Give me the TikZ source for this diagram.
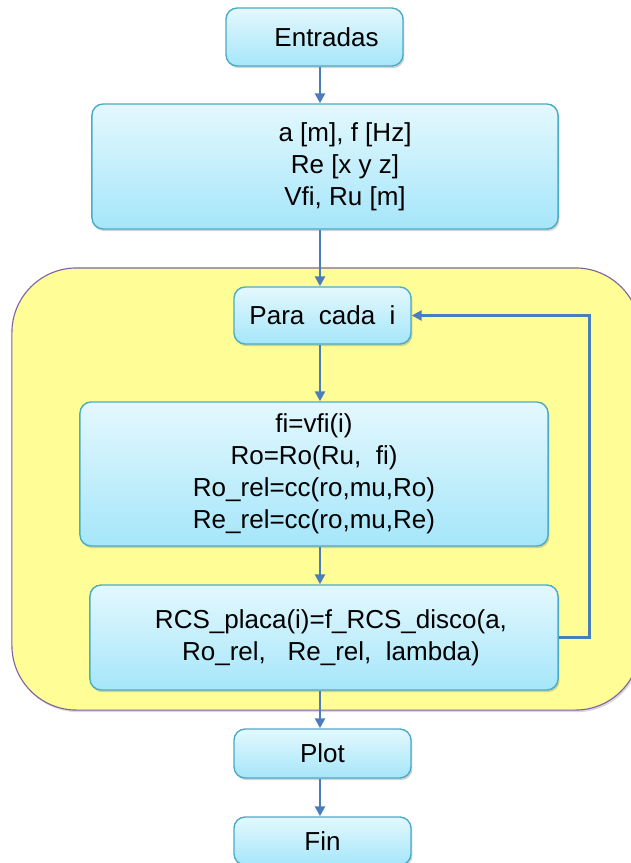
\documentclass[tikz,border=0pt]{standalone}
\usepackage{fontspec}
\setmainfont{Liberation Sans}
\usetikzlibrary{arrows.meta,shadows}
\definecolor{boxline}{RGB}{75, 172, 198}
\definecolor{boxtop}{RGB}{228, 248, 253}
\definecolor{boxbot}{RGB}{165, 230, 250}
\definecolor{flowblue}{RGB}{74, 126, 187}
\definecolor{loopfill}{RGB}{255, 253, 150}
\definecolor{loopline}{RGB}{128, 100, 162}

\begin{document}
\begin{tikzpicture}[x=0.025cm, y=-0.025cm,
    stepbox/.style={rectangle, rounded corners=8pt, draw=boxline, line width=1pt,
        top color=boxtop, bottom color=boxbot, align=center,
        font=\fontsize{18.5}{22.7}\selectfont,
        drop shadow={opacity=0.35, shadow xshift=1pt, shadow yshift=-1.5pt}},
    flow/.style={-{Triangle[length=7pt, width=7pt]}, line width=2pt, draw=flowblue}]
        \useasboundingbox (0,0) rectangle (631,863);
        \clip (0,0) rectangle (631,863);

        % Loop region
        \node[rectangle, rounded corners=46pt, draw=loopline, line width=0.8pt, fill=loopfill,
            minimum width=15.7cm, minimum height=11.05cm,
            drop shadow={opacity=0.3, shadow xshift=1pt, shadow yshift=-1.5pt}] (grp) at (326,489) {};

        % Steps
        \node[stepbox, minimum width=4.425cm, minimum height=1.45cm] (entr) at (314.5,37) {\hspace*{0.6cm}Entradas};
        \node[stepbox, minimum width=11.65cm, minimum height=3.125cm] (inp) at (325,166.5) {\hspace*{1cm}a [m], f [Hz]\\\hspace*{1cm}Re [x y z]\\\hspace*{1cm}Vfi, Ru [m]};
        \node[stepbox, minimum width=4.425cm, minimum height=1.425cm] (para) at (322.5,315.5) {Para~ cada~ i};
        \node[stepbox, minimum width=11.7cm, minimum height=3.6cm] (calc) at (314,474) {fi=vfi(i)\\Ro=Ro(Ru,~ fi)\\Ro\_rel=cc(ro,mu,Ro)\\Re\_rel=cc(ro,mu,Re)};
        \node[stepbox, minimum width=11.7cm, minimum height=2.625cm] (rcs) at (324,637.5) {\hspace*{0.35cm}RCS\_placa(i)=f\_RCS\_disco(a,\\\hspace*{0.35cm}Ro\_rel,~~ Re\_rel,~ lambda)};
        \node[stepbox, minimum width=4.425cm, minimum height=1.225cm] (plot) at (322.5,753.5) {Plot};
        \node[stepbox, minimum width=4.425cm, minimum height=1.2cm] (fin) at (322.5,841) {Fin};

        % Arrows
        \coordinate (spine) at (320,0);
        \draw[flow] (entr.south -| spine) -- (inp.north -| spine);
        \draw[flow] (inp.south -| spine) -- (para.north -| spine);
        \draw[flow] (para.south -| spine) -- (calc.north -| spine);
        \draw[flow] (calc.south -| spine) -- (rcs.north -| spine);
        \draw[flow] (rcs.south -| spine) -- (plot.north -| spine);
        \draw[flow] (plot.south -| spine) -- (fin.north -| spine);
        \draw[flow] (rcs.east) -- ++(31,0) |- (para.east);
    \end{tikzpicture}
\end{document}
